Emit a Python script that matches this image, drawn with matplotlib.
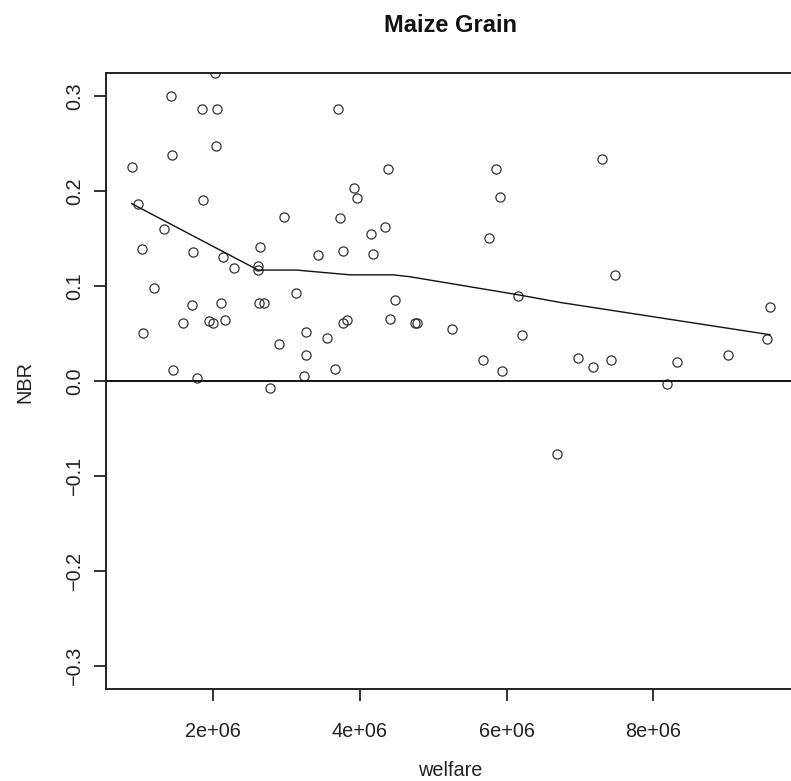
import matplotlib
matplotlib.use("Agg")
import matplotlib.pyplot as plt

plt.rcParams['font.family'] = ['Liberation Sans', 'DejaVu Sans']

# welfare (in units of 1e6) and NBR
welfare_m = [0.887, 0.977, 1.024, 1.037, 1.195, 1.328, 1.419, 1.433, 1.455, 1.591,
             1.719, 1.710, 1.782, 1.842, 1.855, 1.945, 2.000, 2.023, 2.055, 2.041,
             2.109, 2.136, 2.155, 2.286, 2.614, 2.614, 2.637, 2.619, 2.691, 2.773,
             2.968, 2.892, 3.128, 3.264, 3.264, 3.237, 3.435, 3.546, 3.664, 3.707,
             3.725, 3.765, 3.773, 3.826, 3.923, 3.956, 4.151, 4.174, 4.341, 4.378,
             4.410, 4.478, 4.751, 4.774, 5.255, 5.682, 5.756, 5.851, 5.910, 5.933,
             6.159, 6.210, 6.687, 6.978, 7.174, 7.297, 7.419, 7.478, 8.191, 8.328,
             9.023, 9.547, 9.592]
nbr = [0.225, 0.187, 0.139, 0.051, 0.098, 0.160, 0.300, 0.238, 0.012, 0.061,
       0.136, 0.080, 0.003, 0.286, 0.191, 0.063, 0.061, 0.324, 0.286, 0.247,
       0.082, 0.131, 0.064, 0.119, 0.121, 0.117, 0.141, 0.082, 0.082, -0.007,
       0.173, 0.039, 0.093, 0.052, 0.028, 0.006, 0.133, 0.046, 0.013, 0.286,
       0.172, 0.137, 0.061, 0.064, 0.203, 0.193, 0.155, 0.134, 0.162, 0.223,
       0.066, 0.085, 0.061, 0.061, 0.055, 0.022, 0.151, 0.223, 0.194, 0.011,
       0.090, 0.049, -0.077, 0.025, 0.015, 0.234, 0.022, 0.112, -0.003, 0.020,
       0.028, 0.045, 0.078]

# smoothed (lowess) line, vertices
smooth_x_m = [0.887, 2.614, 3.137, 3.864, 4.455, 4.682, 6.159, 6.728, 9.592]
smooth_y = [0.187, 0.117, 0.117, 0.112, 0.112, 0.110, 0.091, 0.083, 0.049]

xticks_m = [2, 4, 6, 8]
xtick_labels = ["2e+06", "4e+06", "6e+06", "8e+06"]
yticks = [-0.3, -0.2, -0.1, 0.0, 0.1, 0.2, 0.3]
ytick_labels = ["\u22120.3", "\u22120.2", "\u22120.1", "0.0", "0.1", "0.2", "0.3"]

W, H = 791, 781
fig = plt.figure(figsize=(W / 100, H / 100), dpi=100)
left, right, top, bottom = 105.7, 795.5, 73.3, 689.3
ax = fig.add_axes([left / W, 1 - bottom / H, (right - left) / W, (bottom - top) / H])

x = [v * 1e6 for v in welfare_m]
ax.plot(x, nbr, linestyle="none", marker="o", markersize=6.6,
        markerfacecolor="none", markeredgecolor="#333333", markeredgewidth=0.9)
ax.plot([v * 1e6 for v in smooth_x_m], smooth_y, color="#111111", linewidth=1.0)
ax.axhline(0, color="#111111", linewidth=1.4)

ax.set_xlim(0.535e6, 9.94e6)
ax.set_ylim(-0.324, 0.324)
ax.set_xticks([v * 1e6 for v in xticks_m])
ax.set_xticklabels(xtick_labels)
ax.set_yticks(yticks)
ax.set_yticklabels(ytick_labels, rotation=90, va="center")

for s in ax.spines.values():
    s.set_linewidth(1.4)
    s.set_color("#222222")
ax.tick_params(axis="both", direction="out", length=8.6, width=1.3,
               colors="#222222", labelsize=14.3)
ax.tick_params(axis="x", pad=15)
ax.tick_params(axis="y", pad=7)

fig.text((left + right) / 2 / W, 1 - 25 / H, "Maize Grain", ha="center", va="center",
         fontsize=17, fontweight="bold", color="#111111")
fig.text((left + right) / 2 / W, 1 - 770 / H, "welfare", ha="center", va="center",
         fontsize=14.3, color="#222222")
fig.text(25 / W, 1 - 382 / H, "NBR", ha="center", va="center", rotation=90,
         fontsize=14.3, color="#222222")

fig.savefig("out.png", dpi=100)
